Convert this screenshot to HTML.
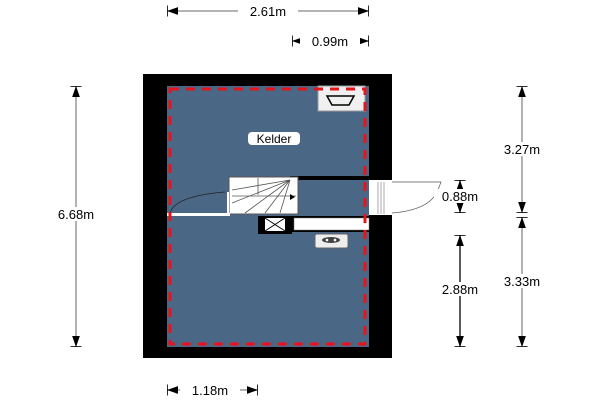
<!DOCTYPE html>
<html><head><style>body{margin:0;background:#fff}svg{display:block}text{font-family:"Liberation Sans",sans-serif;font-size:12px;fill:#000}.d text{font-size:13px}</style></head>
<body>
<svg width="600" height="400" viewBox="0 0 600 400">
<defs>
<marker id="a" viewBox="0 0 10 10" refX="10" refY="5" markerUnits="userSpaceOnUse" markerWidth="11" markerHeight="11" orient="auto-start-reverse"><path d="M0,1.5 L10,5 L0,8.5z" fill="#000"/><path d="M10,0 V10" stroke="#000" stroke-width="1.5"/></marker>
</defs>
<rect x="143" y="74" width="249" height="284" fill="#000"/>
<rect x="167" y="86" width="202" height="261" fill="#4a6785"/>
<rect x="318" y="86" width="47" height="25" fill="#f0f0f0" stroke="#999"/>
<path d="M327,96 L354,96 L349,105 L332,105 Z" fill="none" stroke="#000" stroke-width="1.5"/>
<rect x="290" y="176" width="102" height="4" fill="#000"/>
<rect x="369" y="180" width="23" height="35" fill="#fff"/>
<path d="M378,182 V214 M381,182 V214 M384,182 V214" stroke="#888" stroke-width="0.7"/>
<path d="M392,213 Q430,210 438,190 L441,182 L392,182" fill="none" stroke="#555" stroke-width="0.7"/>
<rect x="229" y="177" width="69" height="37" fill="#fff" stroke="#555"/>
<g stroke="#555" stroke-width="0.8"><path d="M290,180 L232,190 M290,180 L232,203 M290,180 L245,213 M290,180 L265,213 M290,180 L280,213 M258,178 V195 M232,196 H296"/></g>
<path d="M290,194 l5,3 l-5,3z" fill="#000"/>
<rect x="167" y="213" width="63" height="3" fill="#fff"/>
<path d="M170,213 Q175,196 225,192" fill="none" stroke="#222" stroke-width="0.8"/>
<rect x="227" y="192" width="2" height="22" fill="#fff"/>
<rect x="258" y="216" width="34" height="18" fill="#000"/>
<rect x="265" y="218" width="20" height="13" fill="#fff"/>
<path d="M265,218 L285,231 M285,218 L265,231" stroke="#000"/>
<rect x="292" y="216" width="77" height="16" fill="#000"/>
<rect x="294" y="218" width="75" height="12" fill="#fff" stroke="#777" stroke-width="0.5"/>
<rect x="315" y="234" width="33" height="14" rx="2" fill="#eee" stroke="#666"/>
<ellipse cx="331" cy="240" rx="9" ry="3" fill="#444"/>
<circle cx="327" cy="240" r="1.3" fill="#fff"/><circle cx="335" cy="240" r="1.3" fill="#fff"/>
<rect x="170" y="89" width="195" height="255" fill="none" stroke="#e8141c" stroke-width="3" stroke-dasharray="9,7"/>
<rect x="248" y="132" width="52" height="13" rx="4" fill="#fff"/>
<text x="274" y="143" text-anchor="middle">Kelder</text>
<g stroke-width="1.3" fill="none" stroke="#888">
<line x1="167" y1="11" x2="369" y2="11" marker-start="url(#a)" marker-end="url(#a)"/>
<line x1="292" y1="41" x2="369" y2="41" marker-start="url(#a)" marker-end="url(#a)"/>
<line x1="167" y1="390" x2="258" y2="390" marker-start="url(#a)" marker-end="url(#a)"/>
<line x1="76" y1="86" x2="76" y2="347" marker-start="url(#a)" marker-end="url(#a)"/>
<line x1="522" y1="86" x2="522" y2="213" marker-start="url(#a)" marker-end="url(#a)"/>
<line x1="522" y1="217" x2="522" y2="347" marker-start="url(#a)" marker-end="url(#a)"/>
<line x1="460" y1="180" x2="460" y2="213" marker-start="url(#a)" marker-end="url(#a)" stroke="#000"/>
<line x1="460" y1="235" x2="460" y2="347" marker-start="url(#a)" marker-end="url(#a)" stroke="#000"/>
</g>
<g class="d">
<rect x="238" y="4" width="60" height="14" fill="#fff"/><text x="268" y="16" text-anchor="middle">2.61m</text>
<rect x="300" y="34" width="60" height="14" fill="#fff"/><text x="330" y="46" text-anchor="middle">0.99m</text>
<rect x="180" y="383" width="60" height="14" fill="#fff"/><text x="210" y="395" text-anchor="middle">1.18m</text>
<rect x="50" y="207" width="52" height="14" fill="#fff"/><text x="76" y="219" text-anchor="middle">6.68m</text>
<rect x="496" y="142" width="52" height="14" fill="#fff"/><text x="522" y="154" text-anchor="middle">3.27m</text>
<rect x="496" y="274" width="52" height="14" fill="#fff"/><text x="522" y="286" text-anchor="middle">3.33m</text>
<rect x="434" y="189" width="52" height="14" fill="#fff"/><text x="460" y="201" text-anchor="middle">0.88m</text>
<rect x="434" y="282" width="52" height="14" fill="#fff"/><text x="460" y="294" text-anchor="middle">2.88m</text>
</g>
</svg>
</body></html>
